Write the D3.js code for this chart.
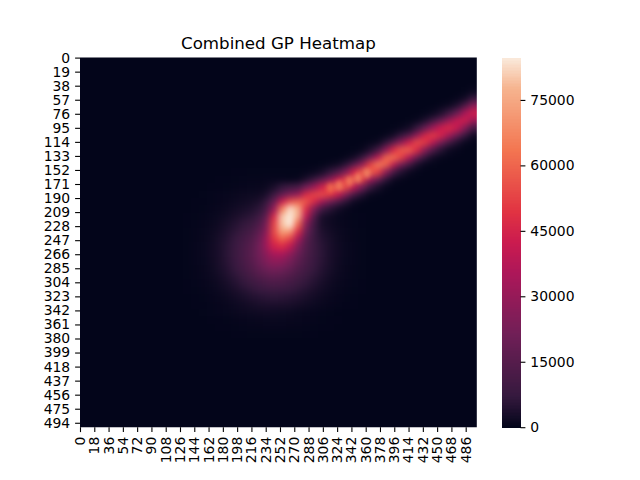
<!DOCTYPE html>
<html><head><meta charset="utf-8">
<script src="https://cdn.jsdelivr.net/npm/d3@7"></script>
<style>html,body{margin:0;padding:0;background:#fff}svg{display:block}text{font-family:"DejaVu Sans";fill:#000}</style>
</head><body><div id="c"></div>
<script>
const title = "Combined GP Heatmap";
const rowCount = 500, colCount = 500, cellStep = 10;
const xTickLabels = [0,18,36,54,72,90,108,126,144,162,180,198,216,234,252,270,288,306,324,342,360,378,396,414,432,450,468,486];
const yTickLabels = [0,19,38,57,76,95,114,133,152,171,190,209,228,247,266,285,304,323,342,361,380,399,418,437,456,475,494];
const colorbarTicks = [0,15000,30000,45000,60000,75000];
const valueMax = 84700;
const rocketStops = [0,0.083,0.25,0.417,0.5,0.583,0.75,0.917,1];
const rocketColors = ["#03051a","#35193e","#701f57","#ad1759","#cb1b4f","#e13342","#f37651","#f6b48f","#faebdd"];

// all values in thousands, one entry per 10x10 block of the heatmap
const glowFirstRow = 15, glowFirstCol = 13;
const glowValues = [
[0,0,0,0,0,0,.1,.1,.2,.2,.2,.2,.2,.2,.2,.1,.1,0,0,0,0,0,0],
[0,0,0,0,.1,.1,.2,.3,.4,.4,.5,.5,.5,.4,.4,.3,.2,.1,.1,0,0,0,0],
[0,0,0,.1,.1,.2,.4,.5,.7,.8,.9,1,.9,.8,.7,.5,.4,.2,.1,.1,0,0,0],
[0,0,.2,.3,.5,.7,1,1.4,1.6,1.8,1.9,1.8,1.6,1.4,1,.7,.5,.3,.2,0,0,0,0],
[0,.1,.1,.3,.5,.8,1.3,1.8,2.4,3,3.2,3.3,3.2,3,2.4,1.8,1.3,.8,.5,.3,.1,.1,0],
[0,.1,.2,.5,.8,1.4,2.1,3,3.9,4.7,5.3,5.5,5.3,4.7,3.9,3,2.1,1.4,.8,.5,.2,.1,0],
[.1,.2,.4,.7,1.3,2.1,3.2,4.5,5.9,7.2,8.1,8.4,8.1,7.2,5.9,4.5,3.2,2.1,1.3,.7,.4,.2,.1],
[.1,.3,.5,1,1.8,3,4.5,6.4,8.4,10.2,11.4,11.9,11.4,10.2,8.4,6.4,4.5,3,1.8,1,.5,.3,.1],
[.2,.4,.7,1.4,2.4,3.9,5.9,8.4,11,13.3,15,15.5,15,13.3,11,8.4,5.9,3.9,2.4,1.4,.7,.4,.2],
[.2,.4,.8,1.6,3,4.7,7.2,10.2,13.3,16.1,18.1,18.8,18.1,16.1,13.3,10.2,7.2,4.7,3,1.6,.8,.4,.2],
[.2,.5,.9,1.8,3.2,5.3,8.1,11.4,15,18.1,20.4,21.2,20.4,18.1,15,11.4,8.1,5.3,3.2,1.8,.9,.5,.2],
[.2,.5,1,1.9,3.3,5.5,8.4,11.9,15.5,18.8,21.2,22,21.2,18.8,15.5,11.9,8.4,5.5,3.3,1.9,1,.5,.2],
[.2,.5,.9,1.8,3.2,5.3,8.1,11.4,15,18.1,20.4,21.2,20.4,18.1,15,11.4,8.1,5.3,3.2,1.8,.9,.5,.2],
[.2,.4,.8,1.6,3,4.7,7.2,10.2,13.3,16.1,18.1,18.8,18.1,16.1,13.3,10.2,7.2,4.7,3,1.6,.8,.4,.2],
[.2,.4,.7,1.4,2.4,3.9,5.9,8.4,11,13.3,15,15.5,15,13.3,11,8.4,5.9,3.9,2.4,1.4,.7,.4,.2],
[.1,.3,.5,1,1.8,3,4.5,6.4,8.4,10.2,11.4,11.9,11.4,10.2,8.4,6.4,4.5,3,1.8,1,.5,.3,.1],
[.1,.2,.4,.7,1.3,2.1,3.2,4.5,5.9,7.2,8.1,8.4,8.1,7.2,5.9,4.5,3.2,2.1,1.3,.7,.4,.2,.1],
[0,.1,.2,.5,.8,1.4,2.1,3,3.9,4.7,5.3,5.5,5.3,4.7,3.9,3,2.1,1.4,.8,.5,.2,.1,0],
[0,.1,.1,.3,.5,.8,1.3,1.8,2.4,3,3.2,3.3,3.2,3,2.4,1.8,1.3,.8,.5,.3,.1,.1,0],
[0,0,.2,.3,.5,.7,1,1.4,1.6,1.8,1.9,1.8,1.6,1.4,1,.7,.5,.3,.2,0,0,0,0],
[0,0,0,.1,.1,.2,.4,.5,.7,.8,.9,1,.9,.8,.7,.5,.4,.2,.1,.1,0,0,0],
[0,0,0,0,.1,.1,.2,.3,.4,.4,.5,.5,.5,.4,.4,.3,.2,.1,.1,0,0,0,0],
[0,0,0,0,0,0,.1,.1,.2,.2,.2,.2,.2,.2,.2,.1,.1,0,0,0,0,0,0]
];

const coreFirstRow = 17, coreFirstCol = 22;
const coreValues = [
[0,.5,2.2,5.7,8.6,8.1,4.6,1.6],
[0,1.6,6.7,16,23.5,20.8,11.2,3.8],
[.6,4,15,38,52,45,20.6,6.5],
[1.2,7,25,60,78,64,28,8.4],
[2,10,38,72,84,68,31,8.2],
[2.7,12.3,40,68,76,52,20,5.2],
[3.2,13,38,58,58,36,12,2.7],
[3.3,14,31,42,37,21,6,1.2],
[3,12,23,27,22,9.6,2.9,.5],
[2.5,7,13,14.4,10,4.3,1.2,0],
[1.7,4.4,7,7,4.4,1.7,.4,0],
[1,2.3,3.3,2.9,1.6,.5,0,0],
[.6,1.2,1.5,1.2,.6,.2,0,0],
[0,.6,.7,.6,.3,0,0,0]
];

const ridgeCols = [27,28,29,30,31,32,33,34,35,36,37,38,39,40,41,42,43,44,45,46,47,48,49];
const ridgeFirstRows = [16,15,15,14,14,14,13,12,12,11,11,10,9,9,8,8,7,7,6,6,5,4,4];
const ridgeValues = [
[.4,2.6,8.2,12,8.2,2.6,.4],
[.4,3.5,16,34.5,34.5,16,3.5,.4],
[1,7.8,28.6,48.5,38.6,14.4,2.6,.2],
[.2,2.9,16.2,43.2,54.2,31.9,8.8,1.2],
[.8,6.6,27.5,54,50.3,21.9,4.5,.5],
[2,13.3,41.4,60.5,41.4,13.3,2],
[.6,5.6,25.4,54,54,25.4,5.6,.6],
[.2,2.6,15.4,44.5,60.3,38.2,11.4,1.6],
[.8,6.9,29,57.3,53.1,23.1,4.7,.4],
[.4,3.9,20.8,51.5,60,32.7,8.4,1],
[1.4,10.6,38.3,65,51.8,19.4,3.4,.3],
[.7,6.2,28.2,60,60,28.2,6.2,.7],
[.2,2.6,16.1,46.4,62.7,39.9,11.9,1.6],
[.8,6.8,28.6,56.5,52.4,22.8,4.7,.4],
[.2,2.4,14.8,42.7,57.8,36.7,11,1.5],
[.9,7.6,29.6,54.2,46.5,18.8,3.5,.3],
[.3,3.7,18.9,45.2,50.6,26.6,6.6,.7],
[1.3,9.6,32.3,50.8,37.5,13,2.1,.2],
[.4,3.9,18.9,42.4,44.7,22.2,5.1,.6],
[1.4,9.7,30.8,46,32.2,10.6,1.6,.1],
[.5,4.2,19.2,41,41,19.2,4.2,.5],
[.2,2.3,12.9,34.5,43.3,25.5,7,.9],
[1.1,8.1,27.2,42.8,31.6,11,1.8,.1]
];

// small bright spots along the ridge, in heatmap columns and rows
const beadCols = [315,326,339,350,361];
const beadRows = [176,172,167,162,156];
const beadValues = [62000,66000,66000,68000,68000];

const gridSize = rowCount / cellStep;
const grid = d3.range(gridSize).map(() => new Array(gridSize).fill(0));
glowValues.forEach((r,i) => r.forEach((v,j) => { grid[glowFirstRow+i][glowFirstCol+j] += v; }));
coreValues.forEach((r,i) => r.forEach((v,j) => { grid[coreFirstRow+i][coreFirstCol+j] += v; }));
ridgeValues.forEach((r,k) => r.forEach((v,i) => { grid[ridgeFirstRows[k]+i][ridgeCols[k]] += v; }));
const cells = grid.flatMap((r,i) => r.map((v,j) => ({row:i,col:j,value:v*1000})));

const W=640,H=480,L=80,R=476.8,T=57.6,B=427.2,CL=502,CR=520.5;
const svg = d3.select("#c").append("svg").attr("width",W).attr("height",H);
const color = d3.scaleLinear().domain(rocketStops.map(s=>s*valueMax)).range(rocketColors).interpolate(d3.interpolateRgb).clamp(true);
const x = d3.scaleBand().domain(d3.range(colCount)).range([L,R]);
const y = d3.scaleBand().domain(d3.range(rowCount)).range([T,B]);
const xCell = d3.scaleBand().domain(d3.range(gridSize)).range([L,R]);
const yCell = d3.scaleBand().domain(d3.range(gridSize)).range([T,B]);

const defs = svg.append("defs");
defs.append("clipPath").attr("id","plot").append("rect").attr("x",L).attr("y",T).attr("width",R-L).attr("height",B-T);
const f = defs.append("filter").attr("id","soft").attr("x","-5%").attr("y","-5%").attr("width","110%").attr("height","110%").attr("color-interpolation-filters","sRGB");
f.append("feGaussianBlur").attr("stdDeviation",3);
const f2 = defs.append("filter").attr("id","softBead").attr("filterUnits","userSpaceOnUse").attr("x",L).attr("y",T).attr("width",R-L).attr("height",B-T).attr("color-interpolation-filters","sRGB");
f2.append("feGaussianBlur").attr("stdDeviation",1.9);

const plot = svg.append("g").attr("clip-path","url(#plot)");
plot.append("g").attr("filter","url(#soft)").attr("shape-rendering","crispEdges").selectAll("rect").data(cells).join("rect")
  .attr("x",d=>xCell(d.col)-(d.col===0?16:0))
  .attr("y",d=>yCell(d.row)-(d.row===0?16:0))
  .attr("width",d=>xCell.bandwidth()+0.5+(d.col===0||d.col===gridSize-1?16:0))
  .attr("height",d=>yCell.bandwidth()+0.5+(d.row===0||d.row===gridSize-1?16:0))
  .attr("fill",d=>color(d.value));
plot.append("g").attr("filter","url(#softBead)").selectAll("ellipse").data(beadCols).join("ellipse")
  .attr("cx",d=>x(d)+x.bandwidth()/2)
  .attr("cy",(d,i)=>y(beadRows[i])+y.bandwidth()/2)
  .attr("rx",3).attr("ry",4.6)
  .attr("fill",(d,i)=>color(beadValues[i]))
  .attr("fill-opacity",0.8);

const style = g => { g.select(".domain").remove();
  g.selectAll("line").attr("stroke","#000").attr("stroke-width",1.1);
  g.selectAll("text").attr("font-size",13.9).attr("font-family","DejaVu Sans").attr("fill","#000"); };

svg.append("g").attr("transform",`translate(0,${B})`)
  .call(d3.axisBottom(x).tickValues(xTickLabels).tickSize(4.9).tickSizeOuter(0))
  .call(style)
  .call(g=>g.selectAll("text").attr("transform","rotate(-90) translate(-9.5,-9.4)").attr("text-anchor","end").attr("dy","0.32em").attr("x",0).attr("y",9.4));
svg.append("g").attr("transform",`translate(${L},0)`)
  .call(d3.axisLeft(y).tickValues(yTickLabels).tickSize(4.9).tickSizeOuter(0).tickPadding(4.9))
  .call(style);

const cScale = d3.scaleLinear().domain([0,valueMax]).range([B,T]);
const levels = d3.range(256).map(i=>i/256*valueMax);
svg.append("g").attr("shape-rendering","crispEdges").selectAll("rect").data(levels).join("rect")
  .attr("x",CL).attr("width",CR-CL)
  .attr("y",d=>cScale(d+valueMax/256)).attr("height",(B-T)/256+0.6)
  .attr("fill",d=>color(d));
svg.append("g").attr("transform",`translate(${CR},0)`)
  .call(d3.axisRight(cScale).tickValues(colorbarTicks).tickFormat(d3.format("d")).tickSize(4.9).tickSizeOuter(0).tickPadding(4.9))
  .call(style);

svg.append("text").attr("x",(L+R)/2).attr("y",T-9).attr("text-anchor","middle").attr("font-size",16.67).text(title);
</script></body></html>
